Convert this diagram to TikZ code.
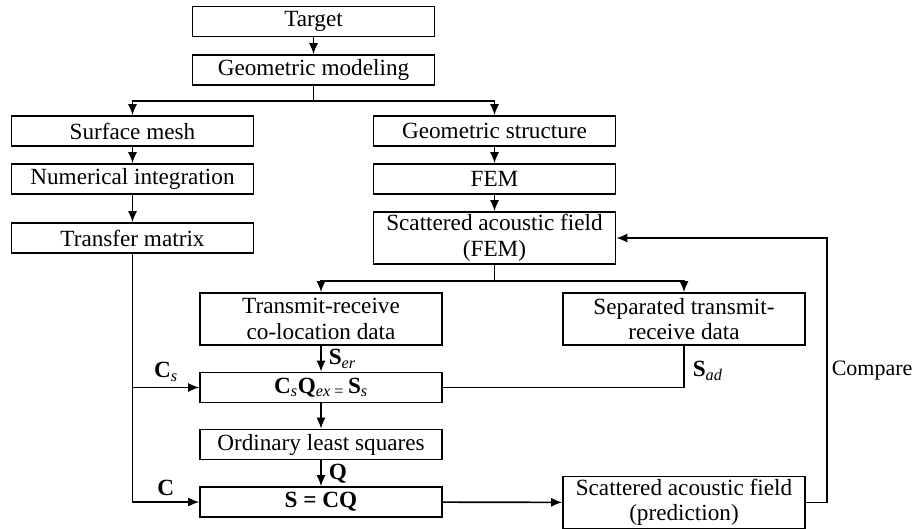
\documentclass[tikz,border=0pt]{standalone}
\usepackage{fontspec}
\setmainfont{Liberation Serif}
\usetikzlibrary{arrows.meta,positioning,calc}

\begin{document}
\begin{tikzpicture}[x=1pt,y=-1pt,
	box/.style={draw,line width=1.6pt,minimum width=242pt,minimum height=30pt,inner sep=0pt,align=center,font=\fontsize{23.2}{25.5}\selectfont},
	tallbox/.style={box,minimum height=52pt},
	arr/.style={line width=1.6pt,-{Latex[length=11pt,width=9pt]}},
	lin/.style={line width=1.6pt},
	lbl/.style={inner sep=0pt,font=\fontsize{23.2}{25.5}\selectfont}]
	\useasboundingbox (0,0) rectangle (917,528);
	% top of the chart
	\node[box] (target) at (313.5,21.5) {Target};
	\node[box] (geomod) at (313.5,70) {Geometric modeling};
	% left column
	\node[box] (surf) at (132.5,131) {Surface mesh};
	\node[box] (numint) at (132.5,179) {Numerical integration};
	\node[box] (transfer) at (132.5,238) {Transfer matrix};
	% right column
	\node[box] (geostr) at (494.5,131) {Geometric structure};
	\node[box] (fem) at (494.5,179) {FEM};
	\node[tallbox] (scatfem) at (494.5,238) {Scattered acoustic field\\(FEM)};
	\node[tallbox] (coloc) at (321,319) {Transmit-receive\\co-location data};
	\node[tallbox] (sepdata) at (684,319) {Separated transmit-\\receive data};
	% solving
	\node[box] (eqs) at (321,387.5) {\textbf{C}\textsubscript{\textit{s}}\textbf{Q}\textsubscript{\textit{ex} = }\textbf{S}\textsubscript{\textit{s}}};
	\node[box] (ols) at (321,444.5) {Ordinary least squares};
	\node[box] (scq) at (321,502) {\textbf{S = CQ}};
	\node[tallbox] (pred) at (684,502.5) {Scattered acoustic field\\(prediction)};
	% connectors
	\draw[arr] (target) -- (geomod);
	\draw[arr] (geomod.south) -- ++(0,15) -| (surf.north);
	\draw[arr] (geomod.south) -- ++(0,15) -| (geostr.north);
	\draw[arr] (surf) -- (numint);
	\draw[arr] (numint) -- (transfer);
	\draw[arr] (geostr) -- (fem);
	\draw[arr] (fem) -- (scatfem);
	\draw[arr] (scatfem.south) -- ++(0,16) -| (coloc.north);
	\draw[arr] (scatfem.south) -- ++(0,16) -| (sepdata.north);
	\draw[arr] (coloc) -- node[lbl,right=7pt] {\textbf{S}\textsubscript{\textit{er}}} (eqs);
	\draw[arr] (eqs) -- (ols);
	\draw[arr] (ols) -- node[lbl,right=7pt] {\textbf{Q}} (scq);
	\draw[arr] (transfer.south) |- node[lbl,pos=0.75,above=5pt] {\textbf{C}} (scq.west);
	\draw[arr] (transfer.south |- eqs.west) -- node[lbl,pos=0.5,above=5pt] {\textbf{C}\textsubscript{\textit{s}}} (eqs.west);
	\draw[lin] (sepdata.south) |- node[lbl,pos=0.3,right=8pt] {\textbf{S}\textsubscript{\textit{ad}}} (eqs.east);
	\draw[arr] (scq) -- (pred);
	\coordinate (back) at (827,0);
	\draw[arr] (pred.east) -| (back |- pred.east) -- node[lbl,right=4pt,pos=0.5,font=\fontsize{22}{25}\selectfont] {Compare} (back |- scatfem.east) -- (scatfem.east);
\end{tikzpicture}
\end{document}
